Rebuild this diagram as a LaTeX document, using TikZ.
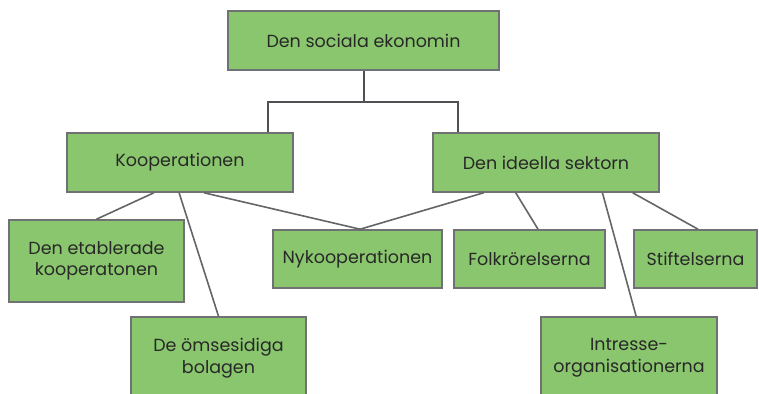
\documentclass[tikz,border=0pt]{standalone}
\usepackage{fontspec}
\setmainfont{Poppins}
\usetikzlibrary{calc}
\definecolor{boxgreen}{RGB}{138,198,110}
\definecolor{boxborder}{RGB}{112,113,116}
\definecolor{linegray}{RGB}{100,101,104}
\definecolor{treegray}{RGB}{80,81,84}
\definecolor{txt}{RGB}{40,40,40}
\tikzset{
  box/.style={draw=boxborder, line width=1.6pt, fill=boxgreen, inner sep=0pt,
    align=center, text=txt, font=\fontsize{17.5}{21.5}\selectfont},
  conn/.style={draw=linegray, line width=1.6pt},
  tree/.style={draw=treegray, line width=2pt}
}
\begin{document}
\begin{tikzpicture}[x=1pt,y=-1pt]
\clip (0,0) rectangle (759,393);
\useasboundingbox (0,0) rectangle (759,393);
\node[box, minimum width=271pt, minimum height=59pt] (top) at (363.5,40.5) {Den sociala ekonomin};
\node[box, minimum width=226pt, minimum height=59pt] (koop) at (180,162.5) {Kooperationen};
\node[box, minimum width=226pt, minimum height=59pt] (ideell) at (546,162.5) {Den ideella sektorn};
\node[box, minimum width=175pt, minimum height=82pt] (etab) at (96.5,261) {Den etablerade\\kooperatonen};
\node[box, minimum width=175pt, minimum height=82pt] (omse) at (218.5,358) {De ömsesidiga\\bolagen};
\node[box, minimum width=169pt, minimum height=58pt] (nyko) at (357.5,259) {Nykooperationen};
\node[box, minimum width=151pt, minimum height=58pt] (folk) at (529.5,259) {Folkrörelserna};
\node[box, minimum width=123pt, minimum height=58pt] (stift) at (695.5,259) {Stiftelserna};
\node[box, minimum width=176pt, minimum height=82pt] (intr) at (629,358) {Intresse-\\organisationerna};

\draw[tree] (top.south) -- ++(0,31) coordinate (mid);
\draw[tree] ($(koop.north west)!0.885!(koop.north east)$) |- (mid) -| ($(ideell.north west)!0.115!(ideell.north east)$);

\draw[conn] ($(koop.south west)!0.385!(koop.south east)$) -- (etab.north);
\draw[conn] ($(koop.south west)!0.496!(koop.south east)$) -- (omse.north);
\draw[conn] ($(koop.south west)!0.606!(koop.south east)$) -- ($(nyko.north west)!0.515!(nyko.north east)$);
\draw[conn] ($(ideell.south west)!0.226!(ideell.south east)$) -- ($(nyko.north west)!0.515!(nyko.north east)$);
\draw[conn] ($(ideell.south west)!0.367!(ideell.south east)$) -- ($(folk.north west)!0.556!(folk.north east)$);
\draw[conn] ($(ideell.south west)!0.748!(ideell.south east)$) -- ($(intr.north west)!0.54!(intr.north east)$);
\draw[conn] ($(ideell.south west)!0.881!(ideell.south east)$) -- ($(stift.north west)!0.52!(stift.north east)$);
\end{tikzpicture}
\end{document}
